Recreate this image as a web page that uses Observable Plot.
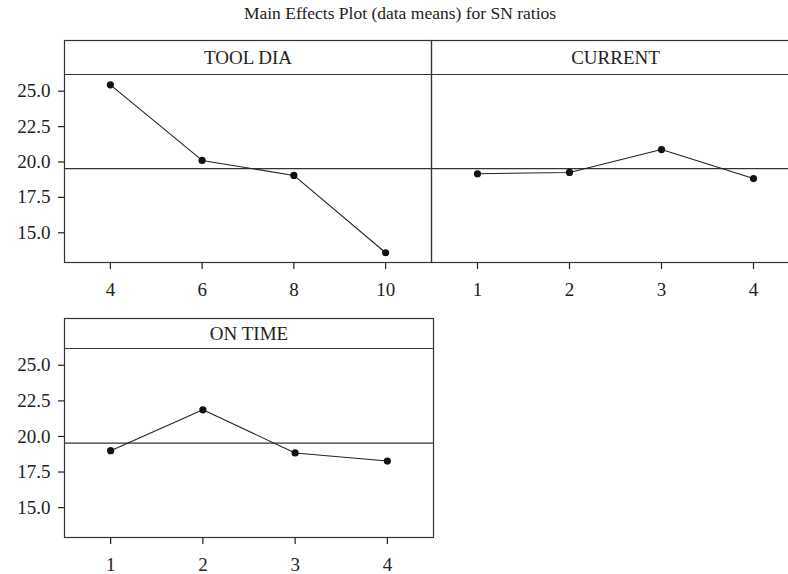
<!DOCTYPE html>
<html><head><meta charset="utf-8">
<script src="https://cdn.jsdelivr.net/npm/d3@7"></script>
<script src="https://cdn.jsdelivr.net/npm/@observablehq/plot@0.6"></script>
<style>
body{margin:0;background:#fff;}
#chart{position:relative;width:788px;height:574px;overflow:hidden;font-family:"Liberation Serif","DejaVu Serif",serif;color:#222;background:#fff;}
#title{position:absolute;left:0;width:800px;top:3px;text-align:center;font-size:17.5px;}
.panel{position:absolute;}
</style></head><body>
<div id="chart"><div id="title">Main Effects Plot (data means) for SN ratios</div></div>
<script>
// ---- data ----
const factorNames = ["TOOL DIA", "CURRENT", "ON TIME"];
const toolDiaLevels = [4, 6, 8, 10];
const toolDiaSN = [25.45, 20.11, 19.05, 13.59];
const currentLevels = [1, 2, 3, 4];
const currentSN = [19.17, 19.26, 20.88, 18.83];
const onTimeLevels = [1, 2, 3, 4];
const onTimeSN = [19.00, 21.87, 18.84, 18.27];
const yTicks = [15.0, 17.5, 20.0, 22.5, 25.0];
const yLimits = [12.9, 26.18];

const grandMean = d3.mean([...toolDiaSN, ...currentSN, ...onTimeSN]);
const chart = document.getElementById("chart");
const FS = 19;

function panel({name, levels, values, left, top, width, marginLeft, frameTop, stripH, plotH, showY}) {
  const data = levels.map((l, i) => ({level: l, sn: values[i]}));
  const step = levels[1] - levels[0];
  const pxPerUnit = plotH / (yLimits[1] - yLimits[0]);
  const yTop = yLimits[1] + stripH / pxPerUnit;
  const stripMid = (yLimits[1] + yTop) / 2;
  const xMid = (levels[0] + levels[levels.length - 1]) / 2;
  const marginBottom = 45;
  const p = Plot.plot({
    width, height: frameTop + stripH + plotH + marginBottom,
    marginLeft, marginRight: 1, marginTop: frameTop, marginBottom,
    style: {fontFamily: '"Liberation Serif","DejaVu Serif",serif', fontSize: FS + "px", color: "#222", background: "transparent", overflow: "visible"},
    x: {domain: [levels[0] - step / 2, levels[levels.length - 1] + step / 2], axis: null, label: null},
    y: {domain: [yLimits[0], yTop], axis: null, label: null},
    marks: [
      Plot.frame({stroke: "#333", strokeWidth: 1.2}),
      Plot.ruleY([yLimits[1]], {stroke: "#333", strokeWidth: 1.2}),
      Plot.text([name], {x: xMid, y: stripMid, text: d => d, fontSize: FS, fill: "#222"}),
      Plot.ruleY([grandMean], {stroke: "#333", strokeWidth: 1.2}),
      Plot.line(data, {x: "level", y: "sn", stroke: "#222", strokeWidth: 1.1}),
      Plot.dot(data, {x: "level", y: "sn", fill: "#111", r: 3.6}),
      Plot.axisX(levels, {label: null, tickSize: 7, tickPadding: 13, fontSize: FS, stroke: "#222", strokeWidth: 1.2, fill: "#222"}),
      ...(showY ? [Plot.axisY(yTicks, {label: null, tickSize: 6, tickPadding: 8, fontSize: FS, tickFormat: d3.format(".1f"), stroke: "#222", strokeWidth: 1.2, fill: "#222"})] : [])
    ]
  });
  p.classList.add("panel");
  p.style.left = left + "px";
  p.style.top = top + "px";
  chart.appendChild(p);
}

panel({name: factorNames[0], levels: toolDiaLevels, values: toolDiaSN, left: 0, top: 0, width: 432, marginLeft: 64, frameTop: 40, stripH: 34, plotH: 188, showY: true});
panel({name: factorNames[1], levels: currentLevels, values: currentSN, left: 430, top: 0, width: 370, marginLeft: 1, frameTop: 40, stripH: 34, plotH: 188, showY: false});
panel({name: factorNames[2], levels: onTimeLevels, values: onTimeSN, left: 0, top: 300, width: 434, marginLeft: 64, frameTop: 18, stripH: 30, plotH: 189, showY: true});
</script>
</body></html>
